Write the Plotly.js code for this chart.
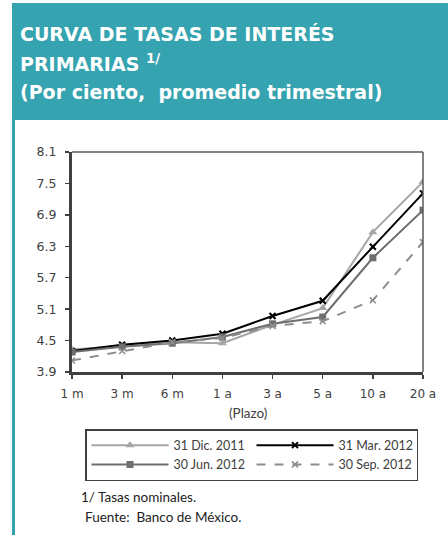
<!DOCTYPE html>
<html>
<head>
<meta charset="utf-8">
<script src="https://cdn.plot.ly/plotly-3.0.1.min.js"></script>
<style>
html,body{margin:0;padding:0;background:#fff;}
#chart{width:448px;height:535px;}
</style>
</head>
<body>
<div id="chart"></div>
<script>
const categories = ["1 m", "3 m", "6 m", "1 a", "3 a", "5 a", "10 a", "20 a"];
const seriesNames = ["31 Dic. 2011", "31 Mar. 2012", "30 Jun. 2012", "30 Sep. 2012"];
const dic2011 = [4.33, 4.40, 4.47, 4.45, 4.80, 5.12, 6.57, 7.53];
const mar2012 = [4.30, 4.42, 4.50, 4.63, 4.97, 5.26, 6.29, 7.31];
const jun2012 = [4.28, 4.38, 4.45, 4.57, 4.82, 4.95, 6.08, 6.99];
const sep2012 = [4.12, 4.30, 4.47, 4.55, 4.78, 4.87, 5.27, 6.38];
const yTicks = [3.9, 4.5, 5.1, 5.7, 6.3, 6.9, 7.5, 8.1];

const W = 448, H = 535, L = 72, R = 25, T = 152, B = 163;
const PW = W - L - R, PH = H - T - B;
const px = x => (x - L) / PW;
const py = y => (H - B - y) / PH;

const traces = [
  {name: seriesNames[0], x: categories, y: dic2011, mode: "lines+markers",
   line: {color: "#A6A6A6", width: 2}, marker: {symbol: "triangle-up", size: 8, color: "#A6A6A6"}},
  {name: seriesNames[1], x: categories, y: mar2012, mode: "lines+markers",
   line: {color: "#000000", width: 2}, marker: {symbol: "x-thin", size: 6, color: "#000000", line: {color: "#000000", width: 2}}},
  {name: seriesNames[2], x: categories, y: jun2012, mode: "lines+markers",
   line: {color: "#6E6E6E", width: 2}, marker: {symbol: "square", size: 7, color: "#6E6E6E"}},
  {name: seriesNames[3], x: categories, y: sep2012, mode: "lines+markers",
   line: {color: "#8C8C8C", width: 2, dash: "dash"}, marker: {symbol: "x-thin", size: 6, color: "#8C8C8C", line: {color: "#8C8C8C", width: 1.5}}}
];

const titleFont = {family: "'DejaVu Sans', sans-serif", size: 19, color: "#ffffff", weight: "bold"};
const txtFont = {family: "Lato, 'Open Sans', sans-serif", size: 13.5, color: "#222222"};

const layout = {
  width: W, height: H,
  margin: {l: L, r: R, t: T, b: B, pad: 0},
  paper_bgcolor: "#ffffff", plot_bgcolor: "#ffffff",
  showlegend: true,
  xaxis: {
    type: "category", range: [0, 7], showgrid: false, zeroline: false,
    showline: true, linecolor: "#404040", linewidth: 3,
    ticks: "outside", ticklen: 4, tickwidth: 1.5, tickcolor: "#404040",
    ticklabelstandoff: 5,
    tickfont: {family: "'DejaVu Sans', sans-serif", size: 12, color: "#404040"},
    fixedrange: true
  },
  yaxis: {
    range: [3.9, 8.1], tickvals: yTicks, ticktext: yTicks.map(v => v.toFixed(1)),
    showgrid: false, zeroline: false,
    showline: true, linecolor: "#404040", linewidth: 3,
    ticks: "outside", ticklen: 4, tickwidth: 1.5, tickcolor: "#404040",
    ticklabelstandoff: 6,
    tickfont: {family: "'DejaVu Sans', sans-serif", size: 12.5, color: "#404040"},
    fixedrange: true
  },
  legend: {
    orientation: "h", x: px(85), y: py(429), xanchor: "left", yanchor: "top",
    bordercolor: "#404040", borderwidth: 1.5, bgcolor: "#ffffff",
    font: {family: "Lato, 'Open Sans', sans-serif", size: 12.5, color: "#404040"},
    itemwidth: 77, entrywidth: 73, tracegroupgap: 0
  },
  shapes: [
    {type: "rect", xref: "paper", yref: "paper", x0: px(12), x1: px(448), y0: py(120), y1: py(3),
     fillcolor: "#35A3B0", line: {width: 0}, layer: "below"},
    {type: "line", xref: "paper", yref: "paper", x0: px(13.5), x1: px(13.5), y0: py(120), y1: py(535),
     line: {color: "#35A3B0", width: 3}},
    {type: "line", xref: "paper", yref: "paper", x0: 0, x1: 1, y0: 1, y1: 1,
     line: {color: "#595959", width: 1.5}},
    {type: "line", xref: "paper", yref: "paper", x0: 1, x1: 1, y0: 0, y1: 1,
     line: {color: "#595959", width: 1.5}}
  ],
  annotations: [
    {text: "CURVA DE TASAS DE INTERÉS", xref: "paper", yref: "paper", x: px(18), y: py(47),
     xanchor: "left", yanchor: "bottom", showarrow: false, font: titleFont},
    {text: "PRIMARIAS <sup>1/</sup>", xref: "paper", yref: "paper", x: px(18), y: py(77),
     xanchor: "left", yanchor: "bottom", showarrow: false, font: titleFont},
    {text: "(Por ciento,  promedio trimestral)", xref: "paper", yref: "paper", x: px(18), y: py(105),
     xanchor: "left", yanchor: "bottom", showarrow: false, font: titleFont},
    {text: "(Plazo)", xref: "paper", yref: "paper", x: px(248), y: py(413),
     xanchor: "center", yanchor: "middle", showarrow: false,
     font: {family: "Lato, 'Open Sans', sans-serif", size: 13.5, color: "#404040"}},
    {text: "1/ Tasas nominales.", xref: "paper", yref: "paper", x: px(79), y: py(497),
     xanchor: "left", yanchor: "middle", showarrow: false, font: txtFont},
    {text: "Fuente:  Banco de México.", xref: "paper", yref: "paper", x: px(83), y: py(517),
     xanchor: "left", yanchor: "middle", showarrow: false, font: txtFont}
  ]
};

Plotly.newPlot("chart", traces, layout, {displayModeBar: false, staticPlot: true});
</script>
</body>
</html>
